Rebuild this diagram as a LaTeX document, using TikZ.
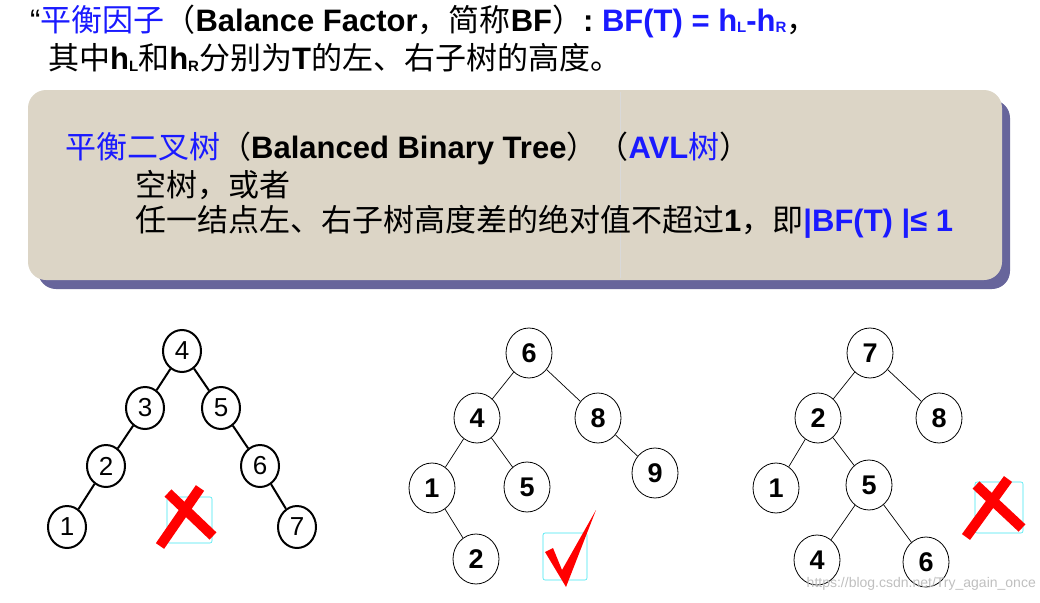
\documentclass[tikz,border=0pt]{standalone}
\usepackage{fontspec}
\setmainfont{Liberation Sans}
\newfontfamily\cjk{Noto Sans CJK SC}
\usetikzlibrary{shapes.geometric}
\definecolor{myblue}{HTML}{1A1AFF}
\definecolor{boxfill}{HTML}{DCD5C6}
\definecolor{shadowc}{HTML}{67659B}
\definecolor{cyanc}{HTML}{3FE6F0}
\newcommand{\sbs}[1]{\raisebox{-0.1ex}{\fontsize{15}{15}\selectfont #1}}
\tikzset{
  txt/.style={anchor=west,inner sep=0pt,font=\fontsize{31}{36}\selectfont},
  boldnode/.style={draw,ellipse,line width=2pt,minimum width=38pt,minimum height=42pt,inner sep=0pt,font=\fontsize{26}{26}\selectfont},
  thinnode/.style={draw,ellipse,line width=0.8pt,minimum width=46pt,minimum height=50pt,inner sep=0pt,font=\bfseries\fontsize{27}{27}\selectfont},
  boldedge/.style={line width=2pt},
  thinedge/.style={line width=0.7pt},
  markbox/.style={draw=cyanc,line width=0.6pt,rounded corners=2pt},
}
\begin{document}
\begin{tikzpicture}[x=1pt,y=-1pt]
\useasboundingbox (0,0) rectangle (1040,602);
% header
\node[txt] (l1) at (30,21) {``\textcolor{myblue}{\cjk 平衡因子}{\cjk （}\textbf{Balance Factor}{\cjk ，简称}\textbf{BF}{\cjk ）}\textbf{: \textcolor{myblue}{BF(T) = h\sbs{L}-h\sbs{R}}}{\cjk ，}};
\node[txt] (l2) at (48,58) {{\cjk 其中}\textbf{h\sbs{L}}{\cjk 和}\textbf{h\sbs{R}}{\cjk 分别为}\textbf{T}{\cjk 的左、右子树的高度。}};
% box
\fill[shadowc,rounded corners=18pt] (38,100) rectangle (1010,289);
\fill[boxfill,rounded corners=18pt] (28,90) rectangle (1002,280);
\draw[black!15,line width=0.5pt] (620,92) -- (620,278);
\node[txt] (b1) at (65,148) {\textcolor{myblue}{\cjk 平衡二叉树}{\cjk （}\textbf{Balanced Binary Tree}{\cjk ）（}\textbf{\textcolor{myblue}{AVL}}{\cjk\textcolor{myblue}{树}）}};
\node[txt] (b2) at (135,185) {\cjk 空树，或者};
\node[txt] (b3) at (135,222) {{\cjk 任一结点左、右子树高度差的绝对值不超过}\textbf{1}{\cjk ，即}\textbf{\textcolor{myblue}{|BF(T) |≤ 1}}};
% tree 1
\node[boldnode] (a4) at (182,351) {4};
\node[boldnode] (a3) at (145,408) {3};
\node[boldnode] (a5) at (221,408) {5};
\node[boldnode] (a2) at (106,466) {2};
\node[boldnode] (a6) at (260,466) {6};
\node[boldnode] (a1) at (67,527) {1};
\node[boldnode] (a7) at (297,527) {7};
\draw[boldedge] (a4)--(a3) (a4)--(a5) (a3)--(a2) (a2)--(a1) (a5)--(a6) (a6)--(a7);
% tree 2
\node[thinnode] (b6) at (529,353) {6};
\node[thinnode] (b4x) at (477,418) {4};
\node[thinnode] (b8) at (598,418) {8};
\node[thinnode] (b1x) at (432,488) {1};
\node[thinnode] (b5) at (527,487) {5};
\node[thinnode] (b9) at (655,473) {9};
\node[thinnode] (b2x) at (476,559) {2};
\draw[thinedge] (b6)--(b4x) (b6)--(b8) (b4x)--(b1x) (b4x)--(b5) (b8)--(b9) (b1x)--(b2x);
% tree 3
\node[thinnode] (c7) at (870,353) {7};
\node[thinnode] (c2) at (818,418) {2};
\node[thinnode] (c8) at (939,418) {8};
\node[thinnode] (c1) at (776,488) {1};
\node[thinnode] (c5) at (869,485) {5};
\node[thinnode] (c4) at (817,560) {4};
\node[thinnode] (c6) at (926,562) {6};
\draw[thinedge] (c7)--(c2) (c7)--(c8) (c2)--(c1) (c2)--(c5) (c5)--(c4) (c5)--(c6);
% marks
\draw[markbox] (167,497) rectangle (212,543);
\draw[red,line width=10pt] (168,493)--(213,536) (200,488)--(160,546);
\draw[markbox] (975,482) rectangle (1023,533);
\draw[red,line width=10pt] (976,485)--(1022,528) (1008,479)--(966,537);
\draw[markbox] (543,533) rectangle (587,580);
\fill[red] (545,552) -- (553,548) -- (562,570) -- (596,510) -- (566,587) -- cycle;
\node[anchor=east,inner sep=0pt,text=black!25,font=\fontsize{14}{14}\selectfont] (wm) at (1036,584) {https://blog.csdn.net/Try\_again\_once};
\end{tikzpicture}
\end{document}
